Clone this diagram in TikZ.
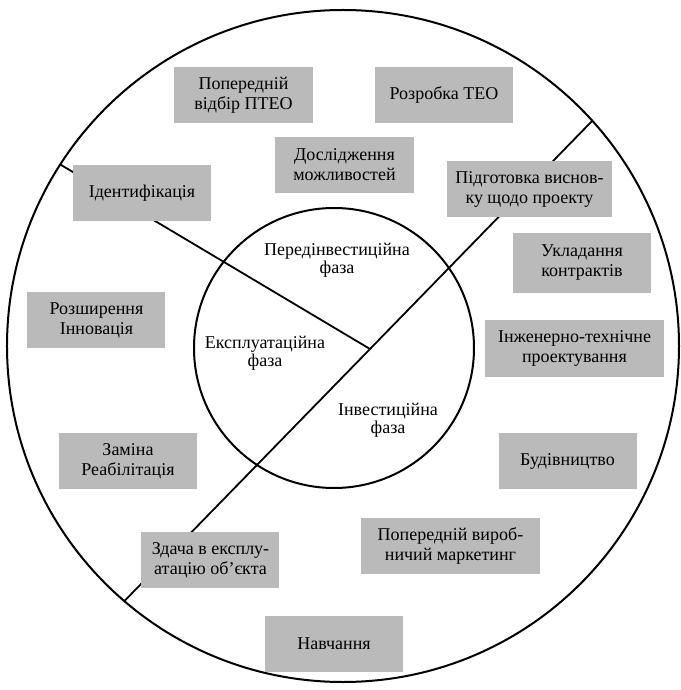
\documentclass[tikz,border=0pt]{standalone}
\usepackage{fontspec}
\setmainfont{Liberation Serif}
\usetikzlibrary{calc}

\tikzset{
	stage/.style = {fill = black!27, minimum width = 69pt, minimum height = 28pt, inner sep = 1pt, align = center, font = \fontsize{9}{10}\selectfont},
	phase/.style = {align = center, font = \fontsize{9}{9}\selectfont}
}

\begin{document}
\begin{tikzpicture}[x = 0.5pt, y = 0.5pt]
		\useasboundingbox (-343,-344) rectangle (337,346);
		
		\def\Rout{168pt}
		\def\Rin{70pt}
		
		\coordinate (outer centre) at (0,0);
		\coordinate (inner centre) at (-9,-2);
		\coordinate (hub) at (27,-3);
		
		\coordinate (rim north west) at (147.3:\Rout);
		\coordinate (rim north east) at (42.1:\Rout);
		\coordinate (rim south west) at (229.4:\Rout);
		
		\draw [line width = 1pt] (outer centre) circle [radius = \Rout];
		\draw [line width = 1pt] (inner centre) circle [radius = \Rin];
		
		%phase borders
		\draw [line width = 0.9pt] (rim north west) -- (hub);
		\draw [line width = 0.9pt] (rim north east) -- (hub) -- (rim south west);
		
		%phases
		\node [phase] (pre-investment) at (-6,86) {Передінвестиційна\\фаза};
		\node [phase] (operation) at (-78,-7) {Експлуатаційна\\фаза};
		\node [phase] (investment) at (45,-74) {Інвестиційна\\фаза};
		
		%stages
		\node [stage] (preselection) at (-99.5,251) {Попередній\\відбір ПТЕО};
		\node [stage] (feasibility) at (101,251) {Розробка ТЕО};
		\node [stage] (opportunities) at (1.5,181) {Дослідження\\можливостей};
		\node [stage] (identification) at (-201,152.5) {Ідентифікація};
		\node [stage, minimum width = 82.5pt] (appraisal) at (186.5,157) {Підготовка виснов-\\ку щодо проекту};
		\node [stage, minimum height = 30pt] (contracts) at (239,83) {Укладання\\контрактів};
		\node [stage] (expansion) at (-246.5,25.5) {Розширення\\Інновація};
		\node [stage, minimum width = 89.5pt] (engineering) at (231.5,-2.5) {Інженерно-технічне\\проектування};
		\node [stage] (replacement) at (-215,-115) {Заміна\\Реабілітація};
		\node [stage] (construction) at (224.5,-115) {Будівництво};
		\node [stage, minimum width = 89.5pt] (marketing) at (107.5,-200) {Попередній вироб-\\ничий маркетинг};
		\node [stage] (commissioning) at (-132.5,-214) {Здача в експлу-\\атацію об’єкта};
		\node [stage] (training) at (-9,-298) {Навчання};
	\end{tikzpicture}
\end{document}
